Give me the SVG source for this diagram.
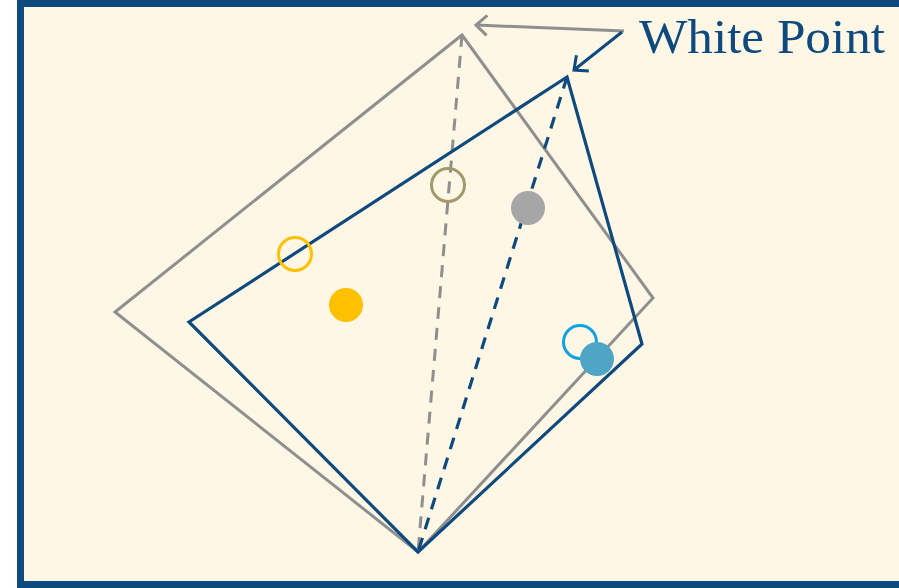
<svg xmlns="http://www.w3.org/2000/svg" width="899" height="588" viewBox="0 0 899 588">
<defs>
<style>
.frame{fill:#FEF7E6;stroke:#0E4A7E;stroke-width:7}
.gray{fill:none;stroke:#8F8F8F;stroke-width:3;stroke-linejoin:miter}
.blue{fill:none;stroke:#0E4A7E;stroke-width:3.2;stroke-linejoin:miter}
.gdash{fill:none;stroke:#8F8F8F;stroke-width:3;stroke-dasharray:12 9}
.bdash{fill:none;stroke:#0E4A7E;stroke-width:3.2;stroke-dasharray:12 9}
.lbl{font-family:"Liberation Serif","DejaVu Serif",serif;font-size:48px;fill:#0E4A7E}
</style>
<marker id="ag" viewBox="0 0 24 24" refX="21" refY="12" markerWidth="24" markerHeight="24" markerUnits="userSpaceOnUse" orient="auto">
<path d="M10,2 L21,12 L10,22" fill="none" stroke="#8F8F8F" stroke-width="3"/>
</marker>
<marker id="ab" viewBox="0 0 24 24" refX="21" refY="12" markerWidth="24" markerHeight="24" markerUnits="userSpaceOnUse" orient="auto">
<path d="M10,2 L21,12 L10,22" fill="none" stroke="#0E4A7E" stroke-width="3"/>
</marker>
</defs>
<rect class="frame" x="20.5" y="3.5" width="900" height="581"/>
<g id="gamut-gray">
<polygon class="gray" points="462,35 115,312 418,552 653,298"/>
<line class="gdash" x1="462" y1="35" x2="418" y2="552"/>
</g>
<g id="gamut-blue">
<polygon class="blue" points="567,77 189,322 418,552 642,344"/>
<line class="bdash" x1="567" y1="77" x2="418" y2="552"/>
</g>
<g id="points">
<circle cx="448" cy="185" r="16.5" fill="none" stroke="#A39A6C" stroke-width="3"/>
<circle cx="528" cy="208" r="17" fill="#A6A6A6"/>
<circle cx="295" cy="254" r="16.5" fill="none" stroke="#FFC000" stroke-width="3"/>
<circle cx="346" cy="305" r="17" fill="#FFC000"/>
<circle cx="580" cy="342" r="16.5" fill="none" stroke="#11A3E0" stroke-width="3"/>
<circle cx="597" cy="359" r="17" fill="#4FA5C6"/>
</g>
<g id="connectors">
<line x1="624" y1="31" x2="476" y2="25" stroke="#8F8F8F" stroke-width="3" marker-end="url(#ag)"/>
<line x1="622" y1="32" x2="574" y2="70" stroke="#0E4A7E" stroke-width="3" marker-end="url(#ab)"/>
</g>
<g id="label">
<text class="lbl" x="639" y="53" textLength="246" lengthAdjust="spacingAndGlyphs">White Point</text>
</g>
</svg>
